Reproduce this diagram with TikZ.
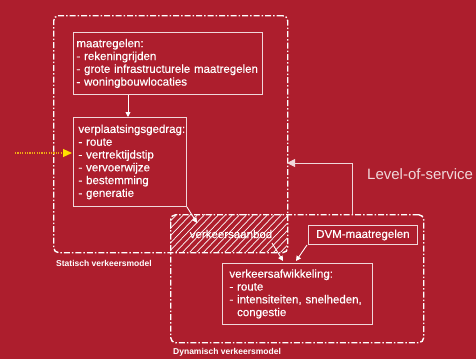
\documentclass[tikz,border=0pt]{standalone}
\usepackage{fontspec}
\setmainfont{Liberation Sans}
\newfontfamily\heavysans[FakeBold=0.35]{Liberation Sans}
\usetikzlibrary{arrows.meta}
\definecolor{bgred}{RGB}{173,30,45}
\definecolor{boxline}{RGB}{240,215,218}
\definecolor{dotorange}{RGB}{240,170,20}
\definecolor{headyellow}{RGB}{255,225,0}
\tikzset{
  model/.style={draw=white, line width=1.4pt, rounded corners=5pt,
    dash pattern=on 6pt off 2pt on 1.5pt off 2pt, inner sep=0pt},
  boxfont/.style={font=\heavysans\fontsize{11.5}{12.8}\selectfont},
  infobox/.style={draw=boxline, line width=0.9pt, text=white, align=left,
    boxfont, inner ysep=3pt},
  flow/.style={draw=white, line width=0.9pt,
    -{Triangle[length=5pt, width=5pt]}},
  modellabel/.style={text=white, font=\fontsize{8.5}{10}\selectfont\bfseries,
    anchor=west, inner sep=0pt},
}
\begin{document}
\begin{tikzpicture}[x=1pt, y=-1pt]
  \fill[bgred] (0,0) rectangle (476,359);
  \useasboundingbox (0,0) rectangle (476,359);

  % hatched overlap of the two model frames
  \begin{scope}
    \clip[rounded corners=5pt] (53,15) rectangle (287,252);
    \clip[rounded corners=5pt] (170,214) rectangle (423,342);
    \foreach \k in {0,...,24}
      \draw[white, line width=0.7pt] (130+7*\k,256) -- (174+7*\k,210);
  \end{scope}

  % model frames
  \node[model, minimum width=234, minimum height=237, anchor=north west]
    (stat) at (53,15) {};
  \node[model, minimum width=253, minimum height=128, anchor=north west]
    (dyn) at (170,214) {};

  % content boxes
  \node[infobox, anchor=north west, minimum width=189, minimum height=62,
    text width=183, inner xsep=3pt] (maat) at (73,32)
    {maatregelen:\\- rekeningrijden\\- grote infrastructurele maatregelen\\- woningbouwlocaties};
  \node[infobox, anchor=north west, minimum width=113, minimum height=89,
    text width=103, inner xsep=5pt] (gedrag) at (73,117)
    {verplaatsingsgedrag:\\- route\\- vertrektijdstip\\- vervoerwijze\\- bestemming\\- generatie};
  \node[infobox, anchor=north west, minimum width=150, minimum height=61,
    text width=136, inner xsep=7pt] (afw) at (222,263)
    {verkeersafwikkeling:\\- route\\- intensiteiten, snelheden,\\\phantom{- }congestie};
  \node[infobox, anchor=north west, minimum width=109, minimum height=19,
    inner ysep=0pt, align=center] (dvm) at (308,225) {DVM-maatregelen};

  % label inside the hatched overlap
  \node[text=white, boxfont, inner sep=0pt]
    (aanbod) at (231,234) {verkeersaanbod};

  % model captions
  \node[modellabel] (statlbl) at (56,263) {Statisch verkeersmodel};
  \node[modellabel] (dynlbl) at (173,352) {Dynamisch verkeersmodel};

  % connectors
  \draw[flow] (maat.south -| 128,0) -- (gedrag.north -| 128,0);
  \coordinate (gedragend) at (197,223);
  \draw[flow] (gedrag.south east) -- (gedragend);
  \coordinate (aanbodstart) at (272,243);
  \coordinate (afwin1) at (283,261);
  \draw[flow] (aanbodstart) -- (afwin1);
  \coordinate (dvmstart) at (307,245);
  \coordinate (afwin2) at (296,261);
  \draw[flow] (dvmstart) -- (afwin2);

  % level-of-service feedback
  \coordinate (losstart) at (352,214);
  \coordinate (losend) at (287,163);
  \draw[draw=boxline, line width=0.9pt, -{Triangle[length=8pt, width=8pt]}]
    (losstart) |- (losend);
  \node[text=boxline, font=\fontsize{15}{18}\selectfont, anchor=west,
    inner sep=0pt] (loslbl) at (367,174) {Level-of-service};

  % external input
  \coordinate (extin) at (15,153);
  \coordinate (extend) at (72,153);
  \draw[dotorange, line width=1.2pt, dash pattern=on 1.2pt off 1.2pt,
    -{Triangle[length=9pt, width=8pt, color=headyellow]}]
    (extin) -- (extend);
\end{tikzpicture}
\end{document}
